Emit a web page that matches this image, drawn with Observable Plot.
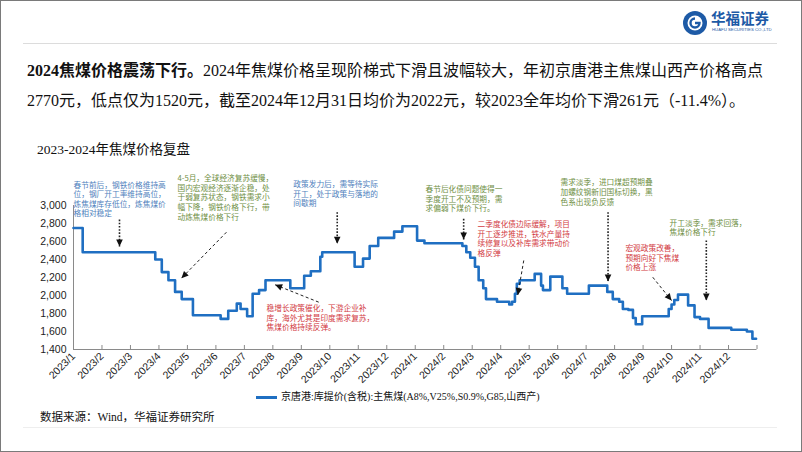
<!DOCTYPE html>
<html><head><meta charset="utf-8">
<script src="https://cdn.jsdelivr.net/npm/d3@7"></script>
<script src="https://cdn.jsdelivr.net/npm/@observablehq/plot@0.6"></script>
<style>
body{margin:0;background:#fff;}
#page{position:relative;width:802px;height:452px;overflow:hidden;background:#fff;font-family:"Liberation Serif","Noto Sans CJK SC",serif;color:#111;}
#frame{position:absolute;left:0;top:0;width:800px;height:450px;border:1px solid #7a7a7a;pointer-events:none;z-index:5}
#chart{position:absolute;left:0;top:0;z-index:1}
.abs{position:absolute;z-index:3;white-space:nowrap;}
</style></head>
<body><div id="page">
<div id="chart"></div>
<svg class="abs" style="left:682px;top:10px" width="26" height="26" viewBox="0 0 26 26">
<circle cx="13" cy="13" r="12" fill="#1d5aa6"/>
<circle cx="13" cy="13" r="7.5" fill="#fff"/>
<path d="M13 8.5 A4.5 4.5 0 1 0 17.5 13 L13 13" fill="none" stroke="#1d5aa6" stroke-width="2.4"/>
</svg>
<div class="abs" style="left:711px;top:9px;font-family:'Noto Sans CJK SC';font-weight:700;font-size:14.5px;line-height:18px;color:#1d5aa6;">华福证券</div>
<div class="abs" style="left:712px;top:27px;font-family:'Liberation Sans';font-size:4.3px;line-height:5px;color:#1d5aa6;">HUAFU SECURITIES CO.,LTD</div>
<div class="abs" style="left:23px;top:43px;width:754px;height:1px;background:#dcdcdc;"></div>
<div class="abs" style="left:27px;top:61px;font-size:16px;line-height:20px;"><b>2024焦煤价格震荡下行。</b>2024年焦煤价格呈现阶梯式下滑且波幅较大，年初京唐港主焦煤山西产价格高点</div>
<div class="abs" style="left:27px;top:91px;font-size:16px;line-height:20px;">2770元，低点仅为1520元，截至2024年12月31日均价为2022元，较2023全年均价下滑261元（-11.4%）。</div>
<div class="abs" style="left:37px;top:141px;font-size:13.5px;line-height:18px;">2023-2024年焦煤价格复盘</div>
<div class="abs" style="left:256px;top:389px;font-size:10px;line-height:16px;display:flex;align-items:center;">
<span style="display:inline-block;width:21px;height:3px;background:#1f6fc2;margin-right:4px;"></span>京唐港:库提价(含税):主焦煤(A8%,V25%,S0.9%,G85,山西产)</div>
<div class="abs" style="left:40px;top:409px;font-size:11.5px;line-height:16px;">数据来源：Wind，华福证券研究所</div>
<div class="abs" style="left:23px;top:427px;width:754px;height:1px;background:#eeeeee;"></div>
<div id="frame"></div>
</div>
<script>
// ---- data ----
const tickLabels = ["2023/1","2023/2","2023/3","2023/4","2023/5","2023/6","2023/7","2023/8","2023/9","2023/10","2023/11","2023/12",
  "2024/1","2024/2","2024/3","2024/4","2024/5","2024/6","2024/7","2024/8","2024/9","2024/10","2024/11","2024/12"];
const yTicks = [1400,1600,1800,2000,2200,2400,2600,2800,3000];
const stepDates = ["2023-01-01","2023-01-11","2023-03-28","2023-04-04","2023-04-11","2023-04-18","2023-04-25","2023-05-07",
  "2023-06-06","2023-06-14","2023-06-23","2023-06-27","2023-07-04","2023-07-10","2023-07-17","2023-07-24","2023-08-20",
  "2023-09-04","2023-09-11","2023-09-21","2023-09-23","2023-10-28","2023-11-06","2023-11-13","2023-11-22","2023-12-09","2023-12-18",
  "2024-01-03","2024-01-11","2024-02-20","2024-02-24","2024-02-28","2024-03-04","2024-03-08","2024-03-13","2024-03-16","2024-03-28",
  "2024-04-10","2024-04-13","2024-04-16","2024-04-18","2024-04-21","2024-05-07","2024-05-14","2024-05-16","2024-05-24","2024-06-06",
  "2024-06-11","2024-07-04","2024-07-24","2024-07-30","2024-08-06","2024-08-10","2024-08-16","2024-08-21","2024-08-24","2024-08-31",
  "2024-09-28","2024-10-01","2024-10-04","2024-10-08","2024-10-19","2024-10-26","2024-11-01","2024-11-10","2024-12-04","2024-12-21",
  "2024-12-27","2024-12-31"];
const stepValues = [2750,2480,2400,2260,2170,2040,1960,1780,
  1740,1830,1910,1850,1770,2020,2060,2170,2080,
  2220,2270,2430,2480,2320,2410,2550,2640,2710,2770,
  2610,2580,2550,2480,2420,2320,2170,2080,1960,1930,
  1900,1930,2020,2130,2170,2240,2110,2060,2210,2080,
  2020,2110,2040,1960,1930,1850,1840,1750,1680,1770,
  1850,1900,1950,2010,1890,1760,1740,1640,1620,1600,
  1520,1520];

const noteTexts = [
  "春节前后，钢铁价格维持高\n位，钢厂开工率维持高位，\n炼焦煤库存低位，炼焦煤价\n格相对稳定",
  "4-5月，全球经济复苏缓慢，\n国内宏观经济逐渐企稳，处\n于弱复苏状态，钢铁需求小\n幅下降，钢铁价格下行，带\n动炼焦煤价格下行",
  "政策发力后，需等待实际\n开工，处于政策与落地的\n间歇期",
  "稳增长政策催化，下游企业补\n库，海外尤其是印度需求复苏，\n焦煤价格持续反弹。",
  "春节后化债问题使得一\n季度开工不及预期，需\n求偏弱下煤价下行。",
  "二季度化债边际缓解，项目\n开工逐步推进，铁水产量持\n续修复以及补库需求带动价\n格反弹",
  "需求淡季，进口煤超预期叠\n加螺纹钢新旧国标切换，黑\n色系出现负反馈",
  "宏观政策改善，\n预期向好下焦煤\n价格上涨",
  "开工淡季，需求回落，\n焦煤价格下行"
];
const noteKinds = ["平稳","下行","平稳","反弹","下行","反弹","下行","反弹","下行"];
const noteX = [0.0, 3.65, 7.72, 6.78, 12.36, 14.19, 17.1, 19.38, 20.93];
const noteY = [3272, 3344, 3281, 1900, 3222, 2835, 3298, 2570, 2853];

// arrows: [x1, y1, x2, y2] (month index, price)
const dottedArrows = [
  [1.615, 2844, 1.615, 2544],
  [9.26, 2926, 9.26, 2574],
  [13.70, 2852, 13.70, 2622],
  [18.77, 2926, 18.77, 2156],
  [22.22, 2611, 22.22, 1944]
];
const dashedArrows = [
  [5.37, 2703, 3.79, 2192],
  [8.61, 1926, 7.08, 2119],
  [15.81, 2389, 15.60, 2006],
  [20.34, 2203, 21.0, 1944]
];

// ---- layout ----
const W = 802, H = 452, ML = 73, MR = 45.5, MT = 205, MB = 103;
const xDomain = [0, 24], yDomain = [1400, 3000];
const px = v => ML + (v - xDomain[0]) / (xDomain[1] - xDomain[0]) * (W - ML - MR);
const py = v => H - MB - (v - yDomain[0]) / (yDomain[1] - yDomain[0]) * (H - MT - MB);

function monthIndex(s) {
  const [y, m, d] = s.split("-").map(Number);
  const dim = new Date(Date.UTC(y, m, 0)).getUTCDate();
  return (y - 2023) * 12 + (m - 1) + (d - 1) / dim;
}
const series = stepDates.map((d, i) => ({x: monthIndex(d), y: stepValues[i]}));
const notes = noteTexts.map((t, i) => ({text: t, kind: noteKinds[i], x: noteX[i], y: noteY[i]}));
const toArrow = a => ({x1: a[0], y1: a[1], x2: a[2], y2: a[3],
  rot: Math.atan2(px(a[2]) - px(a[0]), -(py(a[3]) - py(a[1]))) * 180 / Math.PI});
const dotted = dottedArrows.map(toArrow);
const dashed = dashedArrows.map(toArrow);
const heads = dotted.concat(dashed);

const headSymbol = {draw(ctx) { ctx.moveTo(0, 0); ctx.lineTo(-3.3, 7); ctx.lineTo(3.3, 7); ctx.closePath(); }};
const noteColors = {"平稳": "#4f7fbd", "下行": "#6f8f45", "反弹": "#d23a3f"};
const noteFont = {textAnchor: "start", lineAnchor: "top", fontSize: 7.7, lineHeight: 1.24, fontFamily: "Noto Sans CJK SC"};

const plot = Plot.plot({
  width: W, height: H,
  marginLeft: ML, marginRight: MR, marginTop: MT, marginBottom: MB,
  x: {type: "linear", domain: xDomain, label: null},
  y: {type: "linear", domain: yDomain, label: null},
  style: {background: "transparent", fontFamily: "Liberation Sans", fontSize: "10.5px", color: "#222", overflow: "visible"},
  marks: [
    Plot.ruleX([0], {stroke: "#8a8a8a", strokeWidth: 1}),
    Plot.ruleY([1400], {stroke: "#8a8a8a", strokeWidth: 1}),
    Plot.ruleX(d3.range(1, 25), {x: d => d, insetTop: 140, stroke: "#8a8a8a"}),
    Plot.axisY({ticks: yTicks, tickFormat: d3.format(","), tickSize: 0, tickPadding: 7}),
    Plot.axisX({ticks: d3.range(0, 24), tickFormat: i => tickLabels[i], tickRotate: -45, tickSize: 0, tickPadding: 5}),
    Plot.line(series, {x: "x", y: "y", curve: "step-after", stroke: "#1f6fc2", strokeWidth: 2.6}),
    Plot.link(dotted, {x1: "x1", y1: "y1", x2: "x2", y2: "y2", stroke: "#222", strokeWidth: 1.6, strokeDasharray: "1.6,1.6"}),
    Plot.link(dashed, {x1: "x1", y1: "y1", x2: "x2", y2: "y2", stroke: "#222", strokeWidth: 1, strokeDasharray: "3,2.5"}),
    Plot.dot(heads, {x: "x2", y: "y2", rotate: "rot", symbol: headSymbol, fill: "#111", stroke: "none", r: 4}),
    Plot.text(notes.filter(d => d.kind === "平稳"), {x: "x", y: "y", text: "text", fill: noteColors["平稳"], ...noteFont}),
    Plot.text(notes.filter(d => d.kind === "下行"), {x: "x", y: "y", text: "text", fill: noteColors["下行"], ...noteFont}),
    Plot.text(notes.filter(d => d.kind === "反弹"), {x: "x", y: "y", text: "text", fill: noteColors["反弹"], ...noteFont})
  ]
});
document.getElementById("chart").appendChild(plot);
</script>
</body></html>
